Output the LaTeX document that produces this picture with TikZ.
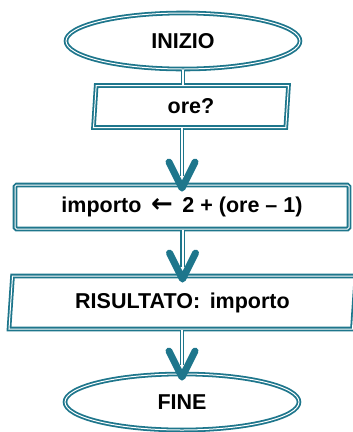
\documentclass[tikz,border=0pt]{standalone}
\usepackage{fontspec}
\setmainfont{Liberation Sans}
\newfontfamily\arrowfont{DejaVu Sans}
\usetikzlibrary{arrows.meta,shapes.geometric}
\definecolor{flowteal}{RGB}{30,118,140}
\begin{document}
\begin{tikzpicture}[x=1pt,y=-1pt,
		box/.style={draw=flowteal, line width=1.8pt, double=white, double distance=1pt,
			font=\bfseries\fontsize{21.5}{26}\selectfont, inner sep=0pt},
		terminal/.style={box, ellipse, minimum width=234pt, minimum height=56pt},
		io/.style={box, trapezium, trapezium left angle=80, trapezium right angle=100,
			trapezium stretches body=true},
		proc/.style={box, rectangle, rounded corners=1.5pt},
		link/.style={draw=flowteal, line width=1.1pt, double=white, double distance=2pt},
		tiphead/.style={draw=flowteal, line width=7pt, line cap=round, line join=round}]
	\useasboundingbox (0,0) rectangle (353,432);
	% blocks of the flow chart
	\node[terminal] (inizio) at (183,41) {INIZIO};
	\node[io, minimum width=195pt, minimum height=42pt] (ore) at (191,106.5) {ore?};
	\node[proc, minimum width=334pt, minimum height=44pt] (calcolo) at (182,207)
		{importo \,{\arrowfont\fontsize{26}{26}\selectfont ←}\, 2 + (ore – 1)};
	\node[io, minimum width=347pt, minimum height=53pt] (stampa) at (182.5,302.5) {RISULTATO:\, importo};
	\node[terminal] (fine) at (182,402) {FINE};
	% plain link after the start
	\draw[link] (inizio.south) -- (inizio.south |- ore.north);
	% arrows between the other blocks
	\foreach \from/\to in {ore/calcolo, calcolo/stampa, stampa/fine}
	{
		% double shaft
		\draw[link, shorten >=8pt] (\from.south -| \to.north) -- (\to.north);
		% open head
		\draw[tiphead] ([shift={(-13,-22)}]\to.north) -- ([yshift=-4pt]\to.north) -- ([shift={(13,-22)}]\to.north);
	}
\end{tikzpicture}
\end{document}
